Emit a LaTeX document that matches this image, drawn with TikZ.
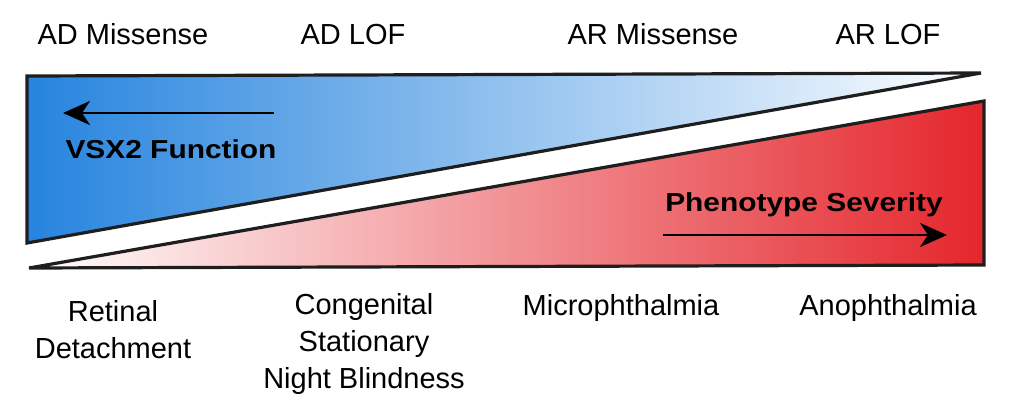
\documentclass[tikz,border=0pt]{standalone}
\usepackage{fontspec}
\setmainfont{Liberation Sans}
\usetikzlibrary{arrows.meta}
\definecolor{vblue}{RGB}{38,132,222}
\definecolor{vred}{RGB}{228,38,44}
\definecolor{edge}{RGB}{30,30,30}
\tikzset{
  lbl/.style={anchor=base, inner sep=0pt, align=center, font=\fontsize{29}{37}\selectfont},
  bold/.style={anchor=base, inner sep=0pt, font=\fontsize{26}{30}\selectfont\bfseries},
  wedge/.style={draw=edge, line width=3.2pt, line join=miter},
  dirarrow/.style={draw=black, line width=2.8pt, -{Stealth[length=27pt,width=24pt,inset=8pt]}}
}
\begin{document}
\begin{tikzpicture}[x=1pt,y=-1pt]
\useasboundingbox (0,0) rectangle (1018,410);
% wedges
\shadedraw[wedge, left color=vblue, middle color=vblue!38, right color=white] (27,76) -- (981,73) -- (27,243) -- cycle;
\shadedraw[wedge, left color=white, middle color=vred!27, right color=vred] (29,268) -- (984,101) -- (984,265) -- cycle;
% top labels
\node[lbl] (admis) at (123,44) {AD Missense};
\node[lbl] (adlof) at (353,44) {AD LOF};
\node[lbl] (armis) at (653,44) {AR Missense};
\node[lbl] (arlof) at (888,44) {AR LOF};
% bottom labels (anchor = baseline of last line)
\node[lbl] (rd) at (113,358) {Retinal\\Detachment};
\node[lbl] (csnb) at (364,388) {Congenital\\Stationary\\Night Blindness};
\node[lbl] (micro) at (621,315) {Microphthalmia};
\node[lbl] (ano) at (888,315) {Anophthalmia};
% bold labels and arrows
\node[bold] (vsx) at (171,158) {\scalebox{1.15}[1]{VSX2 Function}};
\node[bold] (sev) at (804,211) {\scalebox{1.15}[1]{Phenotype Severity}};
\coordinate (b1) at (274,113);
\coordinate (b2) at (63,113);
\coordinate (r1) at (663,235);
\coordinate (r2) at (947,235);
\draw[dirarrow] (b1) -- (b2);
\draw[dirarrow] (r1) -- (r2);
\end{tikzpicture}
\end{document}
